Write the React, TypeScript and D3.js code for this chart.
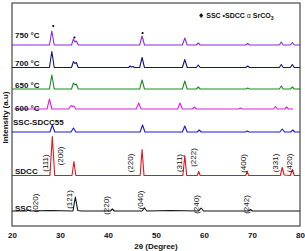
import React from "react";
import * as d3 from "d3";

// x axis ticks (2θ, degree)
const xTicks = [20, 30, 40, 50, 60, 70, 80];

// traces, bottom to top
const seriesNames = ["SSC", "SDCC", "SSC-SDCC55", "600 °C", "650 °C", "700 °C", "750 °C"];
const seriesOffsets = [15, 50.5, 94, 117, 137, 158.5, 181];
const labelLevels = [15.5, 52, 101, 115, 138, 160, 188];

// [2θ, intensity above own baseline]
const ssc = [
  [20, 0], [23, 0], [23.4, 1], [23.8, 0], [28, 0.5], [32.7, 0], [33.2, 14], [33.7, 0.5], [34.5, 0],
  [40.5, 0], [40.9, 2], [41.3, 0], [47.1, 0], [47.6, 3], [48.1, 0], [53, 0.5], [58.9, 0],
  [59.4, 3], [59.9, 0], [69.3, 0], [69.7, 1.5], [70.1, 0], [80, 0],
];
const sdcc = [
  [20, 0], [27.9, 0], [28.4, 39], [28.9, 0], [32.5, 0], [32.9, 14], [33.3, 0], [46.7, 0],
  [47.1, 26], [47.5, 0], [55.6, 0], [56.0, 20], [56.4, 0], [58.6, 0], [58.9, 4], [59.2, 0],
  [68.7, 0], [69.0, 4], [69.3, 0], [75.9, 0], [76.3, 8], [76.7, 0.5], [78.0, 0], [78.4, 6],
  [78.8, 0], [80, 0],
];
const sscSdcc55 = [
  [20, 0], [27.9, 0], [28.4, 7], [28.9, 0], [32.3, 0], [32.8, 4], [33.3, 0], [46.7, 0],
  [47.2, 7], [47.7, 0], [55.5, 0], [56.0, 6], [56.5, 0], [58.6, 0], [59.0, 2], [59.4, 0],
  [68.6, 0], [69.0, 1], [69.4, 0], [75.8, 0], [76.3, 3], [76.8, 0], [78.1, 0], [78.5, 2],
  [78.9, 0], [80, 0],
];
const t600 = [
  [20.5, 0], [27.3, 0], [27.8, 10], [28.3, 0], [31.8, 0], [32.3, 3.5], [32.6, 2.5], [32.9, 3],
  [33.3, 0], [45.9, 0], [46.4, 6], [46.9, 0], [54.5, 0], [55.0, 6], [55.5, 0], [57.6, 0],
  [58.0, 2], [58.4, 0], [67.2, 0], [67.6, 1], [68.0, 0], [74.5, 0], [74.9, 2.5], [75.3, 0],
  [76.8, 0], [77.2, 2], [77.6, 0], [78.6, 0],
];
const t650 = [
  [20, 0], [27.8, 0], [28.3, 14], [28.8, 0], [32.4, 0], [32.8, 6], [33.1, 4], [33.4, 5],
  [33.8, 0], [46.6, 0], [47.1, 9], [47.6, 0], [55.5, 0], [56.0, 8], [56.5, 0], [58.4, 0],
  [58.8, 2], [59.2, 0], [68.7, 0], [69.1, 1], [69.5, 0], [75.7, 0], [76.1, 3], [76.5, 0],
  [78.0, 0], [78.4, 2], [78.8, 0], [80, 0],
];
const t700 = [
  [20, 0], [27.8, 0], [28.3, 16], [28.8, 0], [32.4, 0], [32.8, 6], [33.1, 4], [33.4, 5],
  [33.8, 0], [44.3, 0], [44.6, 1.5], [44.9, 0.5], [45.2, 1], [45.5, 0], [46.6, 0], [47.1, 10],
  [47.6, 0], [55.5, 0], [56.0, 8], [56.5, 0], [58.4, 0], [58.8, 2.5], [59.2, 0], [68.7, 0],
  [69.1, 1.5], [69.5, 0], [75.7, 0], [76.1, 3], [76.5, 0], [78.0, 0], [78.4, 3], [78.8, 0],
  [80, 0],
];
const t750 = [
  [20, 0], [27.8, 0], [28.3, 14], [28.8, 0], [32.4, 0], [32.8, 6], [33.1, 3], [33.4, 4],
  [33.8, 0], [46.6, 0], [47.1, 9], [47.6, 0], [55.5, 0], [56.0, 7], [56.5, 0], [58.4, 0],
  [58.8, 2], [59.2, 0], [68.7, 0], [69.1, 1.5], [69.5, 0], [75.7, 0], [76.1, 3], [76.5, 0],
  [78.0, 0], [78.4, 2.5], [78.8, 0], [80, 0],
];
const seriesData = [ssc, sdcc, sscSdcc55, t600, t650, t700, t750];
const seriesColors = ["#111111", "#e4161c", "#1a1ae0", "#e01ee6", "#1f8a24", "#15157c", "#8a2be8"];

// SDCC markers above the 750 °C trace
const markTheta = [28.6, 33.0, 47.2];
const markLevel = [19, 7.5, 12];

// Miller indices
const sdccHkl = ["(111)", "(200)", "(220)", "(311)", "(222)", "(400)", "(331)", "(420)"];
const sdccHklTheta = [26.94, 29.94, 44.52, 54.85, 57.77, 68.06, 74.79, 77.77];
const sdccHklLevel = [63, 70, 63, 63, 68.5, 62.5, 63, 63];
const sscHkl = ["(020)", "(121)", "(220)", "(040)", "(240)", "(242)"];
const sscHklTheta = [24.85, 31.81, 39.58, 46.73, 58.27, 68.69];
const sscHklLevel = [23, 26.5, 20.5, 26, 21.5, 21.5];

const FONT = "'Liberation Sans', Arial, sans-serif";

const XrdChart = () => {
  const svg = React.useRef(null);

  React.useEffect(() => {
    d3.select(svg.current).selectAll("*").remove();
    drawChart(svg);
  }, [svg]);

  return (
    <svg ref={svg} width={305} height={251} style={{ position: "absolute", left: 0, top: 0 }} />
  );
};

function drawChart(svgRef) {
  const left = 12;
  const right = 300;
  const top = 3;
  const bottom = 226;

  const xScale = d3.scaleLinear().domain([20, 80]).range([left, right]);
  const yScale = d3.scaleLinear().domain([0, bottom - top]).range([bottom, top]);

  const svg = d3.select(svgRef.current).attr("font-family", FONT);

  svg.append("rect").attr("width", 305).attr("height", 251).attr("fill", "#fff");

  // traces
  seriesData.forEach((pts, i) => {
    const line = d3
      .line()
      .x((d) => xScale(d[0]))
      .y((d) => yScale(d[1] + seriesOffsets[i]));
    svg
      .append("path")
      .datum(pts)
      .attr("fill", "none")
      .attr("stroke", seriesColors[i])
      .attr("stroke-width", 1.1)
      .attr("stroke-linejoin", "round")
      .attr("d", line);
  });

  // series labels
  seriesNames.forEach((name, i) => {
    svg
      .append("text")
      .attr("x", i === 2 ? 13 : 15)
      .attr("y", yScale(labelLevels[i]))
      .attr("font-size", 8)
      .attr("font-weight", "bold")
      .attr("fill", "#111")
      .text(name);
  });

  // markers on 750 °C
  markTheta.forEach((t, i) => {
    svg
      .append("circle")
      .attr("cx", xScale(t))
      .attr("cy", yScale(markLevel[i] + seriesOffsets[6]))
      .attr("r", 1.1)
      .attr("fill", "#000");
  });

  // hkl labels
  const hkl = (labels, thetas, levels) => {
    labels.forEach((lab, i) => {
      const x = xScale(thetas[i]);
      const y = yScale(levels[i]);
      svg
        .append("text")
        .attr("transform", `translate(${x},${y}) rotate(-90)`)
        .attr("text-anchor", "middle")
        .attr("dy", "0.35em")
        .attr("font-size", 8)
        .attr("fill", "#111")
        .text(lab);
    });
  };
  hkl(sdccHkl, sdccHklTheta, sdccHklLevel);
  hkl(sscHkl, sscHklTheta, sscHklLevel);

  // frame
  svg
    .append("rect")
    .attr("x", left)
    .attr("y", top)
    .attr("width", right - left)
    .attr("height", bottom - top)
    .attr("fill", "none")
    .attr("stroke", "#222")
    .attr("stroke-width", 1);

  // x axis
  const xAxis = d3.axisBottom(xScale).tickValues(xTicks).tickSize(0).tickPadding(6);
  const gx = svg
    .append("g")
    .attr("transform", "translate(0," + bottom + ")")
    .call(xAxis);
  gx.select(".domain").remove();
  gx.selectAll("text")
    .attr("font-family", FONT)
    .attr("font-size", 8)
    .attr("font-weight", "bold")
    .attr("fill", "#111");

  svg
    .append("text")
    .attr("x", (left + right) / 2)
    .attr("y", 249)
    .attr("text-anchor", "middle")
    .attr("font-size", 8)
    .attr("font-weight", "bold")
    .attr("fill", "#111")
    .text("2θ (Degree)");

  svg
    .append("text")
    .attr("transform", `translate(8,${(top + bottom) / 2 + 3}) rotate(-90)`)
    .attr("text-anchor", "middle")
    .attr("font-size", 8)
    .attr("font-weight", "bold")
    .attr("fill", "#111")
    .text("Intensity (a.u)");

  // legend
  const legend = svg
    .append("text")
    .attr("x", 198)
    .attr("y", 17.5)
    .attr("font-size", 7)
    .attr("font-weight", "bold")
    .attr("fill", "#111");
  legend.append("tspan").attr("font-family", "'DejaVu Sans'").text("♦");
  legend.append("tspan").text(" SSC ");
  legend.append("tspan").text("•SDCC ");
  legend.append("tspan").attr("font-weight", "normal").text("α ");
  legend.append("tspan").text("SrCO");
  legend.append("tspan").attr("font-size", 5).attr("dy", 2).text("3");
}

export default function App() {
  return <XrdChart />;
}
